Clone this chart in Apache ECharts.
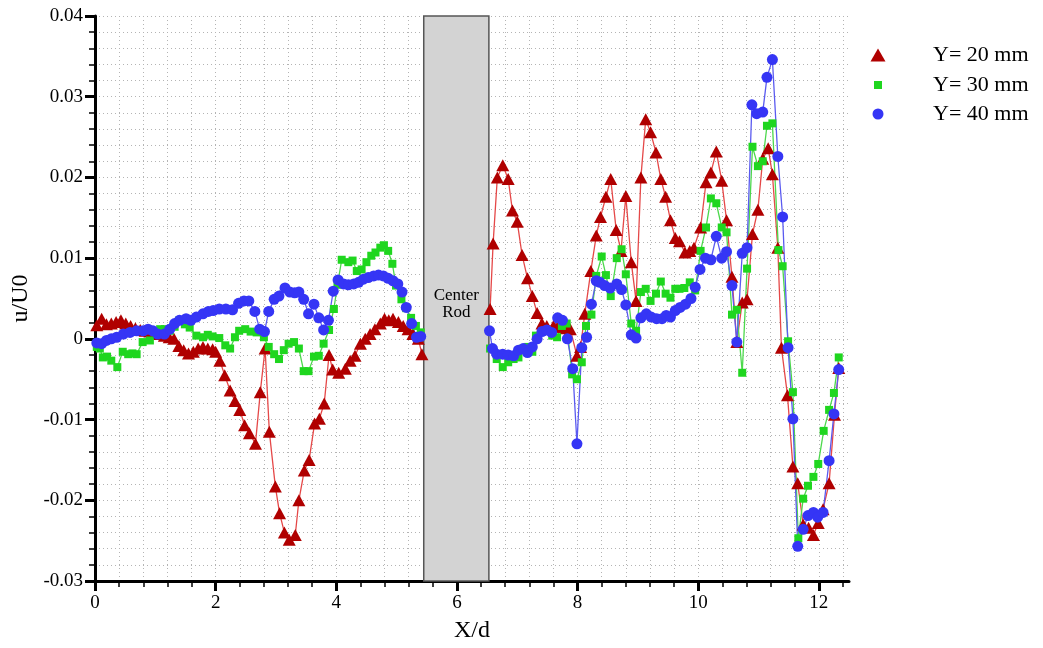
<!DOCTYPE html>
<html>
<head>
<meta charset="utf-8">
<script src="https://cdn.jsdelivr.net/npm/echarts@6/dist/echarts.min.js"></script>
<style>
  html, body { margin: 0; padding: 0; background: #ffffff; }
  #chart { width: 1043px; height: 648px; }
</style>
</head>
<body>
<div id="chart"></div>
<script>
// Streamwise velocity deficit u/U0 along X/d, three heights Y.
// Each profile is split on both sides of the center rod.

const seriesNames = ['Y= 20 mm', 'Y= 30 mm', 'Y= 40 mm'];

const y20Upstream = [
  [0.03,0.0017],[0.11,0.0025],[0.19,0.0018],[0.27,0.0019],[0.35,0.0021],[0.43,0.0023],[0.51,0.0019],
  [0.59,0.0016],[0.67,0.0013],[0.75,0.0011],[0.83,0.0010],[0.91,0.0009],[0.99,0.0007],[1.07,0.0006],
  [1.15,0.0004],[1.23,0.0002],[1.31,0.0000],[1.39,-0.0009],[1.47,-0.0014],[1.55,-0.0018],[1.63,-0.0016],
  [1.71,-0.0012],[1.79,-0.0010],[1.87,-0.0012],[1.95,-0.0013],[2.00,-0.0016],[2.07,-0.0027],[2.15,-0.0045],
  [2.24,-0.0064],[2.32,-0.0077],[2.40,-0.0088],[2.48,-0.0107],[2.56,-0.0117],[2.66,-0.0130],[2.74,-0.0066],
  [2.82,-0.0012],[2.89,-0.0115],[2.99,-0.0183],[3.06,-0.0216],[3.14,-0.0240],[3.22,-0.0249],[3.32,-0.0243],
  [3.38,-0.0200],[3.47,-0.0163],[3.55,-0.0150],[3.64,-0.0105],[3.72,-0.0099],[3.80,-0.0080],[3.88,-0.0020],
  [3.94,-0.0038],[4.04,-0.0042],[4.15,-0.0037],[4.23,-0.0027],[4.31,-0.0021],[4.40,-0.0006],[4.48,0.0000],
  [4.56,0.0006],[4.64,0.0012],[4.73,0.0019],[4.80,0.0025],[4.87,0.0023],[4.94,0.0025],[5.03,0.0021],
  [5.11,0.0016],[5.19,0.0012],[5.27,0.0006],[5.36,0.0000],[5.42,-0.0019]
];
const y20Downstream = [
  [6.55,0.0037],[6.60,0.0118],[6.67,0.0200],[6.76,0.0215],[6.85,0.0198],[6.92,0.0159],[7.00,0.0145],
  [7.08,0.0104],[7.17,0.0075],[7.25,0.0053],[7.33,0.0032],[7.41,0.0019],[7.49,0.0016],[7.60,0.0016],
  [7.67,0.0015],[7.74,0.0015],[7.81,0.0013],[7.88,0.0012],[7.99,-0.0021],[8.05,-0.0010],[8.12,0.0031],
  [8.22,0.0084],[8.31,0.0128],[8.38,0.0151],[8.47,0.0176],[8.55,0.0198],[8.64,0.0135],[8.72,0.0109],
  [8.80,0.0177],[8.89,0.0095],[8.97,0.0047],[9.05,0.0200],[9.13,0.0272],[9.21,0.0256],[9.30,0.0231],
  [9.38,0.0198],[9.46,0.0176],[9.54,0.0147],[9.62,0.0125],[9.69,0.0121],[9.78,0.0107],[9.86,0.0109],
  [9.93,0.0113],[10.04,0.0138],[10.13,0.0194],[10.21,0.0206],[10.30,0.0232],[10.39,0.0196],[10.47,0.0147],
  [10.56,0.0077],[10.64,-0.0004],[10.73,0.0045],[10.81,0.0049],[10.90,0.0130],[10.99,0.0160],[11.07,0.0223],
  [11.16,0.0236],[11.23,0.0204],[11.32,0.0113],[11.38,-0.0011],[11.48,-0.0070],[11.57,-0.0158],[11.65,-0.0179],
  [11.74,-0.0230],[11.83,-0.0234],[11.91,-0.0243],[11.99,-0.0228],[12.07,-0.0211],[12.17,-0.0179],[12.26,-0.0094],
  [12.33,-0.0036]
];

const y30Upstream = [
  [0.03,-0.0010],[0.08,-0.0012],[0.13,-0.0023],[0.20,-0.0022],[0.27,-0.0027],[0.37,-0.0035],[0.46,-0.0016],
  [0.55,-0.0019],[0.62,-0.0018],[0.69,-0.0019],[0.79,-0.0004],[0.91,-0.0002],[1.00,0.0008],[1.08,0.0012],
  [1.16,0.0012],[1.24,0.0010],[1.32,0.0015],[1.40,0.0023],[1.49,0.0018],[1.57,0.0014],[1.68,0.0004],
  [1.79,0.0002],[1.87,0.0005],[1.95,0.0003],[2.06,0.0001],[2.16,-0.0008],[2.24,-0.0012],[2.32,0.0002],
  [2.39,0.0010],[2.49,0.0012],[2.58,0.0009],[2.68,0.0008],[2.80,0.0002],[2.88,-0.0010],[2.97,-0.0019],
  [3.05,-0.0025],[3.13,-0.0014],[3.21,-0.0006],[3.30,-0.0004],[3.38,-0.0012],[3.46,-0.0040],[3.54,-0.0040],
  [3.63,-0.0022],[3.71,-0.0021],[3.79,-0.0006],[3.88,0.0011],[3.96,0.0037],[4.02,0.0067],[4.09,0.0098],
  [4.20,0.0095],[4.27,0.0097],[4.34,0.0084],[4.42,0.0086],[4.50,0.0095],[4.58,0.0103],[4.65,0.0107],
  [4.73,0.0113],[4.79,0.0116],[4.86,0.0109],[4.93,0.0093],[4.99,0.0066],[5.08,0.0049],[5.16,0.0038],
  [5.24,0.0026],[5.32,0.0016],[5.40,0.0008]
];
const y30Downstream = [
  [6.55,-0.0012],[6.66,-0.0025],[6.76,-0.0035],[6.85,-0.0029],[6.94,-0.0025],[7.02,-0.0023],[7.10,-0.0012],
  [7.18,-0.0010],[7.25,-0.0016],[7.31,0.0004],[7.41,0.0009],[7.50,0.0010],[7.58,0.0004],[7.66,0.0002],
  [7.74,0.0016],[7.82,0.0019],[7.91,-0.0044],[7.99,-0.0050],[8.07,-0.0029],[8.14,0.0016],[8.23,0.0030],
  [8.31,0.0078],[8.40,0.0102],[8.47,0.0079],[8.55,0.0053],[8.65,0.0100],[8.73,0.0111],[8.80,0.0080],
  [8.89,0.0019],[8.97,0.0010],[9.05,0.0058],[9.13,0.0062],[9.21,0.0047],[9.30,0.0056],[9.38,0.0071],
  [9.46,0.0056],[9.54,0.0051],[9.62,0.0062],[9.69,0.0062],[9.77,0.0063],[9.86,0.0070],[9.95,0.0060],
  [10.04,0.0109],[10.13,0.0138],[10.21,0.0174],[10.30,0.0168],[10.39,0.0138],[10.47,0.0132],[10.56,0.0030],
  [10.64,0.0036],[10.73,-0.0042],[10.81,0.0087],[10.90,0.0238],[10.99,0.0214],[11.07,0.0220],[11.14,0.0264],
  [11.23,0.0267],[11.33,0.0110],[11.40,0.0090],[11.49,-0.0003],[11.57,-0.0066],[11.66,-0.0247],[11.74,-0.0198],
  [11.82,-0.0182],[11.91,-0.0171],[11.99,-0.0155],[12.08,-0.0114],[12.17,-0.0088],[12.25,-0.0067],[12.33,-0.0023]
];

const y40Upstream = [
  [0.03,-0.0005],[0.11,-0.0006],[0.19,-0.0002],[0.27,0.0000],[0.36,0.0002],[0.47,0.0006],[0.58,0.0008],
  [0.69,0.0010],[0.80,0.0010],[0.88,0.0012],[0.96,0.0010],[1.04,0.0006],[1.15,0.0006],[1.24,0.0012],
  [1.32,0.0019],[1.40,0.0023],[1.51,0.0025],[1.59,0.0023],[1.68,0.0027],[1.79,0.0031],[1.88,0.0034],
  [1.96,0.0035],[2.06,0.0037],[2.17,0.0037],[2.28,0.0036],[2.38,0.0044],[2.47,0.0047],[2.55,0.0047],
  [2.65,0.0034],[2.73,0.0012],[2.81,0.0009],[2.88,0.0034],[2.97,0.0049],[3.05,0.0053],[3.15,0.0063],
  [3.23,0.0058],[3.31,0.0057],[3.38,0.0058],[3.46,0.0049],[3.54,0.0031],[3.63,0.0043],[3.71,0.0026],
  [3.79,0.0011],[3.87,0.0023],[3.95,0.0059],[4.03,0.0073],[4.12,0.0068],[4.20,0.0067],[4.29,0.0068],
  [4.37,0.0070],[4.45,0.0074],[4.53,0.0076],[4.62,0.0078],[4.70,0.0079],[4.78,0.0078],[4.86,0.0075],
  [4.94,0.0072],[5.02,0.0068],[5.09,0.0058],[5.16,0.0039],[5.25,0.0019],[5.33,0.0002],[5.40,0.0003]
];
const y40Downstream = [
  [6.54,0.0010],[6.59,-0.0012],[6.66,-0.0019],[6.76,-0.0019],[6.85,-0.0020],[6.94,-0.0021],[7.02,-0.0014],
  [7.10,-0.0012],[7.17,-0.0017],[7.25,-0.0010],[7.33,0.0000],[7.41,0.0009],[7.49,0.0011],[7.57,0.0008],
  [7.67,0.0026],[7.75,0.0023],[7.83,0.0000],[7.92,-0.0037],[7.99,-0.0130],[8.07,-0.0011],[8.15,0.0002],
  [8.23,0.0043],[8.31,0.0072],[8.37,0.0070],[8.45,0.0066],[8.54,0.0063],[8.65,0.0068],[8.73,0.0061],
  [8.80,0.0042],[8.89,0.0005],[8.97,0.0001],[9.05,0.0026],[9.14,0.0031],[9.22,0.0027],[9.31,0.0025],
  [9.40,0.0025],[9.47,0.0029],[9.54,0.0027],[9.62,0.0035],[9.70,0.0039],[9.79,0.0043],[9.88,0.0050],
  [9.95,0.0064],[10.03,0.0086],[10.12,0.0100],[10.21,0.0098],[10.30,0.0127],[10.39,0.0100],[10.47,0.0108],
  [10.56,0.0066],[10.64,-0.0004],[10.73,0.0106],[10.81,0.0113],[10.89,0.0290],[10.97,0.0279],[11.07,0.0281],
  [11.14,0.0324],[11.23,0.0346],[11.32,0.0226],[11.40,0.0151],[11.49,-0.0011],[11.57,-0.0099],[11.65,-0.0257],
  [11.74,-0.0236],[11.82,-0.0219],[11.91,-0.0215],[11.98,-0.0221],[12.07,-0.0215],[12.17,-0.0151],[12.25,-0.0093],
  [12.33,-0.0038]
];

// axis ticks and labels
const xMajorTicks = [0, 2, 4, 6, 8, 10, 12];
const yRange = [-0.03, 0.04];
const xRange = [0, 12.5];

// the center rod occupies this X/d span
const rodSpan = [5.45, 6.53];
const rodText = 'Center\nRod';

const SERIF = '"Liberation Serif", "Times New Roman", serif';
const GAP = ['-', '-'];

// minor ticks every 0.4 X/d
const xMinorTicks = [];
for (let k = 0; k <= 31; k++) xMinorTicks.push(+(k * 0.4).toFixed(1));

const gridDots = { color: '#b4b4b4', width: 1, type: [1, 3] };

const chart = echarts.init(document.getElementById('chart'), null, { renderer: 'canvas' });

function legendFor(name, icon, w, h, top) {
  const cx = 878;
  return {
    data: [{ name: name, icon: icon }],
    left: cx - w / 2,
    top: top,
    padding: 0,
    itemWidth: w,
    itemHeight: h,
    selectedMode: false,
    textStyle: {
      fontFamily: SERIF, fontSize: 22, color: '#000', lineHeight: 26,
      padding: [0, 0, 0, 933 - (cx + w / 2) - 5]
    }
  };
}

chart.setOption({
  animation: false,
  backgroundColor: '#ffffff',
  grid: { left: 95, right: 194, top: 16, bottom: 65, containLabel: false },
  legend: [
    legendFor(seriesNames[0], 'triangle', 15, 13, 42),
    legendFor(seriesNames[1], 'rect', 8, 8, 72),
    legendFor(seriesNames[2], 'circle', 11, 11, 101)
  ],
  xAxis: [
    {
      type: 'value', min: xRange[0], max: xRange[1], interval: 2, position: 'bottom',
      name: 'X/d', nameLocation: 'middle', nameGap: 38,
      nameTextStyle: { fontFamily: SERIF, fontSize: 24, color: '#000' },
      axisLine: { show: true, onZero: false, lineStyle: { color: '#000', width: 3 } },
      axisTick: { show: true, length: 10, customValues: xMajorTicks, lineStyle: { color: '#000', width: 3 } },
      axisLabel: { customValues: xMajorTicks, fontFamily: SERIF, fontSize: 19, color: '#000', margin: 13 },
      splitLine: { show: false },
      minorTick: { show: false }
    },
    {
      type: 'value', min: xRange[0], max: xRange[1], interval: 0.4, position: 'bottom',
      axisLine: { show: false, onZero: false },
      axisLabel: { show: false },
      axisTick: { show: true, length: 6, customValues: xMinorTicks, lineStyle: { color: '#000', width: 1.5 } },
      splitLine: { show: true, lineStyle: gridDots }
    }
  ],
  yAxis: {
    type: 'value', min: yRange[0], max: yRange[1], interval: 0.01,
    name: 'u/U0', nameLocation: 'middle', nameGap: 54, nameRotate: 90,
    nameTextStyle: { fontFamily: SERIF, fontSize: 24, color: '#000' },
    axisLine: { show: true, onZero: false, lineStyle: { color: '#000', width: 3 } },
    axisTick: { show: true, length: 10, lineStyle: { color: '#000', width: 3 } },
    minorTick: { show: true, splitNumber: 5, length: 6, lineStyle: { color: '#000', width: 1.5 } },
    axisLabel: { fontFamily: SERIF, fontSize: 19, color: '#000', margin: 12 },
    splitLine: { show: true, lineStyle: gridDots },
    minorSplitLine: { show: true, lineStyle: gridDots }
  },
  series: [
    {
      name: seriesNames[0], type: 'line',
      data: y20Upstream.concat([GAP], y20Downstream),
      symbol: 'triangle', symbolSize: [13, 12],
      itemStyle: { color: '#b00000' },
      lineStyle: { color: '#e54848', width: 1.3 },
      emphasis: { disabled: true },
      markArea: {
        silent: true,
        itemStyle: { color: '#d3d3d3', borderColor: '#555555', borderWidth: 1.5 },
        label: {
          show: true, position: 'inside', offset: [0, 6], formatter: rodText,
          fontFamily: SERIF, fontSize: 17, lineHeight: 17, color: '#000'
        },
        data: [[{ xAxis: rodSpan[0], yAxis: yRange[0] }, { xAxis: rodSpan[1], yAxis: yRange[1] }]]
      }
    },
    {
      name: seriesNames[1], type: 'line',
      data: y30Upstream.concat([GAP], y30Downstream),
      symbol: 'rect', symbolSize: 8,
      itemStyle: { color: '#1fd61f' },
      lineStyle: { color: '#4cd84c', width: 1.3 },
      emphasis: { disabled: true }
    },
    {
      name: seriesNames[2], type: 'line',
      data: y40Upstream.concat([GAP], y40Downstream),
      symbol: 'circle', symbolSize: 11,
      itemStyle: { color: '#3535f5' },
      lineStyle: { color: '#5a5af0', width: 1.3 },
      emphasis: { disabled: true }
    }
  ]
});
</script>
</body>
</html>
